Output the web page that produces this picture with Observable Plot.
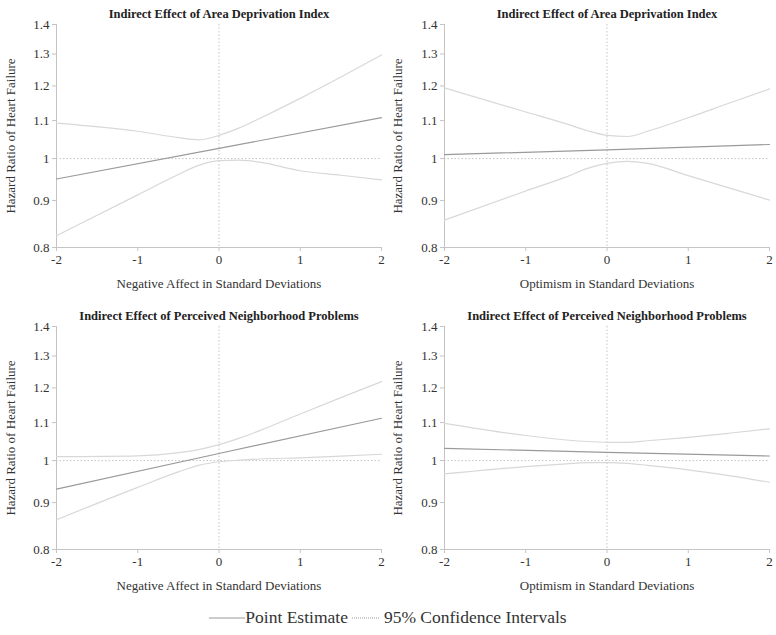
<!DOCTYPE html>
<html>
<head>
<meta charset="utf-8">
<script src="https://cdn.jsdelivr.net/npm/d3@7"></script>
<script src="https://cdn.jsdelivr.net/npm/@observablehq/plot@0.6"></script>
<style>
  body { margin: 0; background: white; font-family: "Liberation Serif", "DejaVu Serif", serif; }
  #wrap { position: relative; width: 776px; height: 635px; background: white; }
  .panel { position: absolute; }
  #legend { position: absolute; left: 0; top: 600px; width: 776px; height: 35px;
            display: flex; justify-content: center; align-items: center; font-size: 17.5px; color: #333; }
  #legend svg { display: block; }
</style>
</head>
<body>
<div id="wrap">
  <div class="panel" id="p1" style="left:0;top:0"></div>
  <div class="panel" id="p2" style="left:386px;top:0"></div>
  <div class="panel" id="p3" style="left:0;top:300px"></div>
  <div class="panel" id="p4" style="left:386px;top:300px"></div>
  <div id="legend"></div>
</div>
<script>
// ---- data ----
const xTicks = [-2, -1, 0, 1, 2];
const yTicks = [0.8, 0.9, 1, 1.1, 1.2, 1.3, 1.4];
const yTickLabels = ["0.8", "0.9", "1", "1.1", "1.2", "1.3", "1.4"];
const ciX = [-2, -1, -0.5, -0.25, 0, 0.25, 0.5, 1, 1.5, 2];
const pointX = [-2, 0, 2];

const titles = [
  "Indirect Effect of Area Deprivation Index",
  "Indirect Effect of Area Deprivation Index",
  "Indirect Effect of Perceived Neighborhood Problems",
  "Indirect Effect of Perceived Neighborhood Problems"
];
const xLabels = [
  "Negative Affect in Standard Deviations",
  "Optimism in Standard Deviations",
  "Negative Affect in Standard Deviations",
  "Optimism in Standard Deviations"
];
const yLabel = "Hazard Ratio of Heart Failure";

// point estimates (at pointX)
const point1 = [0.950, 1.026, 1.108];
const point2 = [1.010, 1.022, 1.036];
const point3 = [0.931, 1.018, 1.112];
const point4 = [1.031, 1.021, 1.0115];

// confidence intervals (at ciX)
const upper1 = [1.093, 1.071, 1.054, 1.048, 1.060, 1.080, 1.106, 1.163, 1.227, 1.297];
const lower1 = [0.824, 0.913, 0.961, 0.983, 0.995, 0.996, 0.991, 0.970, 0.959, 0.948];
const upper2 = [1.194, 1.124, 1.091, 1.073, 1.060, 1.057, 1.071, 1.108, 1.149, 1.191];
const lower2 = [0.857, 0.922, 0.955, 0.975, 0.988, 0.993, 0.988, 0.958, 0.929, 0.901];
const upper3 = [1.010, 1.012, 1.020, 1.028, 1.041, 1.058, 1.078, 1.124, 1.171, 1.219];
const lower3 = [0.862, 0.935, 0.972, 0.988, 0.997, 1.001, 1.004, 1.007, 1.011, 1.016];
const upper4 = [1.098, 1.065, 1.053, 1.049, 1.047, 1.047, 1.051, 1.060, 1.071, 1.083];
const lower4 = [0.967, 0.985, 0.992, 0.995, 0.995, 0.993, 0.988, 0.977, 0.963, 0.947];

const points = [point1, point2, point3, point4];
const uppers = [upper1, upper2, upper3, upper4];
const lowers = [lower1, lower2, lower3, lower4];

const layout = [
  {id: "p1", width: 386, ml: 56, mr: 5, mt: 24, mb: 53, lab: -46},
  {id: "p2", width: 390, ml: 58, mr: 7, mt: 24, mb: 53, lab: -47},
  {id: "p3", width: 386, ml: 56, mr: 5, mt: 26, mb: 51, lab: -46},
  {id: "p4", width: 390, ml: 58, mr: 7, mt: 26, mb: 51, lab: -47}
];

const POINT_COLOR = "#9a9a9a";
const CI_COLOR = "#d8d8d8";
const AXIS_COLOR = "#c4c4c4";
const TICK = 4;
const yTickData = yTicks.map((v, j) => ({v, label: yTickLabels[j]}));

layout.forEach((L, i) => {
  const pt = pointX.map((x, j) => ({x, y: points[i][j]}));
  const up = ciX.map((x, j) => ({x, y: uppers[i][j]}));
  const lo = ciX.map((x, j) => ({x, y: lowers[i][j]}));
  const plotW = L.width - L.ml - L.mr;
  const chart = Plot.plot({
    width: L.width,
    height: 300,
    marginLeft: L.ml,
    marginRight: L.mr,
    marginTop: L.mt,
    marginBottom: L.mb,
    style: {fontFamily: "'Liberation Serif', serif", fontSize: "13px", color: "#333", background: "white", overflow: "visible"},
    x: {domain: [-2, 2]},
    y: {type: "log", domain: [0.8, 1.4], axis: null},
    marks: [
      Plot.ruleX([0], {stroke: AXIS_COLOR, strokeDasharray: "1.5,2"}),
      Plot.ruleY([1], {stroke: AXIS_COLOR, strokeDasharray: "1.5,2"}),
      Plot.frame({anchor: "left", stroke: AXIS_COLOR}),
      Plot.frame({anchor: "bottom", stroke: AXIS_COLOR}),
      // y axis: short outward ticks, labels, title
      Plot.ruleY(yTickData, {y: "v", stroke: AXIS_COLOR, insetLeft: -TICK, insetRight: plotW}),
      Plot.text(yTickData, {y: "v", text: "label", frameAnchor: "left", textAnchor: "end", dx: -7, fill: "#333"}),
      Plot.text([yLabel], {frameAnchor: "left", textAnchor: "middle", rotate: -90, dx: L.lab, fill: "#333"}),
      Plot.axisX({ticks: xTicks, tickFormat: d => String(d), tickSize: TICK, tickPadding: 3,
        stroke: AXIS_COLOR, fill: "#333",
        label: xLabels[i], labelAnchor: "center", labelArrow: "none", labelOffset: 40}),
      Plot.line(up, {x: "x", y: "y", stroke: CI_COLOR, strokeWidth: 1.2, curve: "monotone-x"}),
      Plot.line(lo, {x: "x", y: "y", stroke: CI_COLOR, strokeWidth: 1.2, curve: "monotone-x"}),
      Plot.line(pt, {x: "x", y: "y", stroke: POINT_COLOR, strokeWidth: 1.2}),
      Plot.text([titles[i]], {frameAnchor: "top", dy: -15, fontWeight: "bold", fontSize: 12.5, fill: "#222"})
    ]
  });
  document.getElementById(L.id).appendChild(chart);
});

// legend
const legend = document.getElementById("legend");
legend.innerHTML = `
  <svg width="36" height="10"><line x1="0" x2="36" y1="5" y2="5" stroke="${POINT_COLOR}" stroke-width="1.2"/></svg>
  <span>Point Estimate</span>
  <svg width="32" height="10" style="margin:0 2px"><line x1="2" x2="30" y1="5" y2="5" stroke="${POINT_COLOR}" stroke-width="1" stroke-dasharray="1,1"/></svg>
  <span>95% Confidence Intervals</span>`;
</script>
</body>
</html>
